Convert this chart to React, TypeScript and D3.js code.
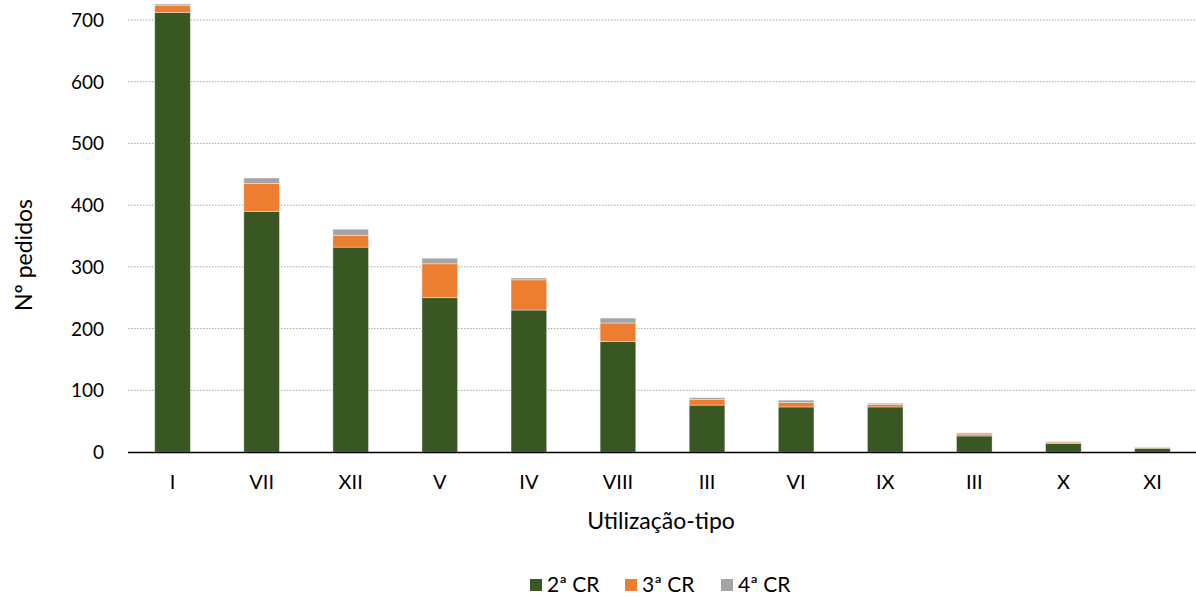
import { useEffect, useRef } from 'react';
import * as d3 from 'd3';

const categories = ['I', 'VII', 'XII', 'V', 'IV', 'VIII', 'III', 'VI', 'IX', 'III', 'X', 'XI'];
const cr2 = [712, 390, 332, 250, 230, 179, 76, 73, 73, 26, 14, 6];
const cr3 = [12, 45, 19, 55, 49, 30, 9, 7, 4, 3, 2, 1];
const cr4 = [2, 9, 10, 9, 3, 8, 3, 4, 2, 2, 1, 1];
const seriesNames = ['2ª CR', '3ª CR', '4ª CR'];
const colors = ['#385723', '#ED7D31', '#A5A5A5'];
const yTicks = [0, 100, 200, 300, 400, 500, 600, 700];

const FONT = 'Lato, "Open Sans", sans-serif';

export default function App() {
  const ref = useRef<SVGSVGElement>(null);

  useEffect(() => {
    if (!ref.current) return;
    const svg = d3.select(ref.current);
    svg.selectAll('*').remove();

    const left = 128, right = 1197, top = 20, bottom = 452;

    const rows = categories.map((c, i) => ({ key: i, cat: c, s0: cr2[i], s1: cr3[i], s2: cr4[i] }));
    const stack = d3.stack<any>().keys(['s0', 's1', 's2'])(rows);

    const x = d3.scaleBand<number>()
      .domain(rows.map(r => r.key))
      .range([left, right])
      .paddingInner(0.6)
      .paddingOuter(0.3);

    const y = d3.scaleLinear().domain([0, 700]).range([bottom, top]);

    // grid
    svg.append('g')
      .selectAll('line')
      .data(yTicks.filter(t => t > 0))
      .enter()
      .append('line')
      .attr('x1', left)
      .attr('x2', right)
      .attr('y1', d => y(d))
      .attr('y2', d => y(d))
      .attr('stroke', '#A6A6A6')
      .attr('stroke-width', 1)
      .attr('stroke-dasharray', '1.5,1.5');

    // bars
    svg.append('g')
      .selectAll('g')
      .data(stack)
      .enter()
      .append('g')
      .attr('fill', (_, i) => colors[i])
      .selectAll('rect')
      .data(d => d)
      .enter()
      .append('rect')
      .attr('x', d => x(d.data.key)!)
      .attr('width', x.bandwidth())
      .attr('y', d => y(d[1]))
      .attr('height', d => Math.max(0, y(d[0]) - y(d[1])))
      .attr('stroke', '#ffffff')
      .attr('stroke-opacity', 0.5)
      .attr('stroke-width', 0.75);

    // x axis line
    svg.append('line')
      .attr('x1', left)
      .attr('x2', right)
      .attr('y1', bottom + 0.5)
      .attr('y2', bottom + 0.5)
      .attr('stroke', '#000')
      .attr('stroke-width', 1.5);

    // y tick labels
    svg.append('g')
      .selectAll('text')
      .data(yTicks)
      .enter()
      .append('text')
      .attr('x', 104)
      .attr('y', d => y(d) + 7)
      .attr('text-anchor', 'end')
      .style('font-family', FONT)
      .style('font-size', '19px')
      .style('fill', '#000')
      .text(d => d);

    // x tick labels
    svg.append('g')
      .selectAll('text')
      .data(rows)
      .enter()
      .append('text')
      .attr('x', d => x(d.key)! + x.bandwidth() / 2)
      .attr('y', 489)
      .attr('text-anchor', 'middle')
      .style('font-family', FONT)
      .style('font-size', '20px')
      .style('fill', '#000')
      .text(d => d.cat);

    // axis titles
    svg.append('text')
      .attr('x', 661)
      .attr('y', 529)
      .attr('text-anchor', 'middle')
      .style('font-family', FONT)
      .style('font-size', '23px')
      .text('Utilização-tipo');

    svg.append('text')
      .attr('transform', `translate(32,255) rotate(-90)`)
      .attr('text-anchor', 'middle')
      .style('font-family', FONT)
      .style('font-size', '23px')
      .text('Nº pedidos');

    // legend
    const legendX = [530, 625, 721];
    const lg = svg.append('g');
    seriesNames.forEach((name, i) => {
      lg.append('rect')
        .attr('x', legendX[i])
        .attr('y', 579)
        .attr('width', 12)
        .attr('height', 12)
        .attr('fill', colors[i]);
      lg.append('text')
        .attr('x', legendX[i] + 17)
        .attr('y', 592)
        .style('font-family', FONT)
        .style('font-size', '21px')
        .text(name);
    });
  }, []);

  return (
    <svg ref={ref} width={1196} height={597} style={{ position: 'absolute', left: 0, top: 0, background: '#fff' }} />
  );
}
